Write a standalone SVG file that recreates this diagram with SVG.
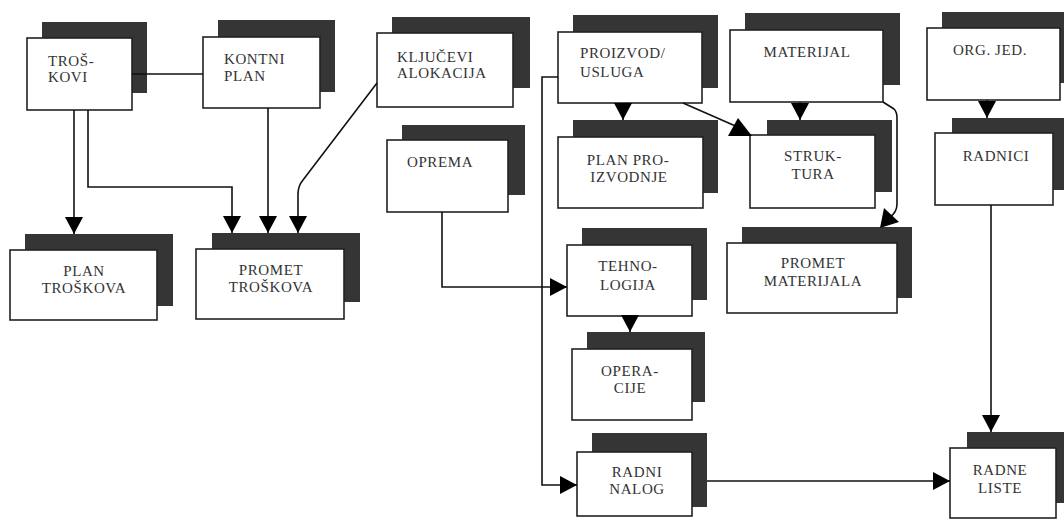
<svg xmlns="http://www.w3.org/2000/svg" width="1064" height="521" viewBox="0 0 1064 521">
<defs>
<marker id="ah" markerWidth="17" markerHeight="18" refX="17" refY="9" orient="auto" markerUnits="userSpaceOnUse" viewBox="0 0 17 18"><path d="M0,0 L17,9 L0,18 z" fill="#000"/></marker>
</defs>
<style>
.sh{fill:#353535;}
.bx{fill:#fff;stroke:#222;stroke-width:1.6;}
.t{font-family:"Liberation Serif","Times New Roman",serif;font-size:15px;letter-spacing:0.6px;fill:#333;}
.c{text-anchor:middle;}
.ln{fill:none;stroke:#111;stroke-width:1.6;}
.ah{fill:#000;}
</style>
<rect width="1064" height="521" fill="#fff"/>
<g id="n-troskovi"><rect class="sh" x="42" y="22" width="105" height="71"/><rect class="bx" x="27" y="38" width="105" height="72"/><text class="t" x="48" y="66">TROŠ-</text><text class="t" x="48" y="82">KOVI</text></g>
<g id="n-kontni"><rect class="sh" x="218" y="20" width="117" height="72"/><rect class="bx" x="203" y="37" width="117" height="71"/><text class="t" x="224" y="64">KONTNI</text><text class="t" x="224" y="81">PLAN</text></g>
<g id="n-kljucevi"><rect class="sh" x="392" y="17" width="138" height="71"/><rect class="bx" x="377" y="33" width="136" height="74"/><text class="t" x="397" y="62">KLJUČEVI</text><text class="t" x="397" y="78">ALOKACIJA</text></g>
<g id="n-proizvod"><rect class="sh" x="573" y="15" width="145" height="73"/><rect class="bx" x="558" y="32" width="144" height="71"/><text class="t" x="580" y="58">PROIZVOD/</text><text class="t" x="580" y="77">USLUGA</text></g>
<g id="n-materijal"><rect class="sh" x="745" y="13" width="155" height="72"/><rect class="bx" x="730" y="30" width="153" height="72"/><text class="t c" x="807" y="57">MATERIJAL</text></g>
<g id="n-orgjed"><rect class="sh" x="942" y="12" width="122" height="71"/><rect class="bx" x="927" y="28" width="133" height="72"/><text class="t c" x="990" y="55">ORG. JED.</text></g>
<g id="n-oprema"><rect class="sh" x="402" y="125" width="123" height="70"/><rect class="bx" x="387" y="140" width="121" height="72"/><text class="t" x="407" y="167">OPREMA</text></g>
<g id="n-planpro"><rect class="sh" x="573" y="120" width="145" height="73"/><rect class="bx" x="558" y="137" width="145" height="71"/><text class="t c" x="628" y="165">PLAN PRO-</text><text class="t c" x="629" y="182">IZVODNJE</text></g>
<g id="n-struktura"><rect class="sh" x="767" y="120" width="125" height="72"/><rect class="bx" x="750" y="135" width="125" height="73"/><text class="t c" x="813" y="161">STRUK-</text><text class="t c" x="813" y="179">TURA</text></g>
<g id="n-radnici"><rect class="sh" x="952" y="118" width="112" height="72"/><rect class="bx" x="935" y="133" width="118" height="72"/><text class="t c" x="996" y="161">RADNICI</text></g>
<g id="n-plantroskova"><rect class="sh" x="25" y="234" width="148" height="72"/><rect class="bx" x="10" y="250" width="147" height="70"/><text class="t c" x="84" y="276">PLAN</text><text class="t c" x="84" y="293">TROŠKOVA</text></g>
<g id="n-promettroskova"><rect class="sh" x="212" y="233" width="148" height="69"/><rect class="bx" x="196" y="249" width="148" height="70"/><text class="t c" x="271" y="275">PROMET</text><text class="t c" x="271" y="292">TROŠKOVA</text></g>
<g id="n-tehnologija"><rect class="sh" x="582" y="228" width="125" height="72"/><rect class="bx" x="567" y="245" width="125" height="71"/><text class="t c" x="628" y="271">TEHNO-</text><text class="t c" x="628" y="290">LOGIJA</text></g>
<g id="n-prometmaterijala"><rect class="sh" x="742" y="227" width="170" height="71"/><rect class="bx" x="727" y="243" width="170" height="70"/><text class="t c" x="813" y="268">PROMET</text><text class="t c" x="813" y="286">MATERIJALA</text></g>
<g id="n-operacije"><rect class="sh" x="587" y="332" width="118" height="70"/><rect class="bx" x="572" y="349" width="120" height="71"/><text class="t c" x="630" y="376">OPERA-</text><text class="t c" x="630" y="393">CIJE</text></g>
<g id="n-radninalog"><rect class="sh" x="592" y="433" width="115" height="74"/><rect class="bx" x="577" y="452" width="115" height="64"/><text class="t c" x="637" y="477">RADNI</text><text class="t c" x="637" y="494">NALOG</text></g>
<g id="n-radneliste"><rect class="sh" x="967" y="432" width="97" height="71"/><rect class="bx" x="950" y="448" width="106" height="70"/><text class="t c" x="1000" y="475">RADNE</text><text class="t c" x="1000" y="493">LISTE</text></g>
<g id="connectors">
<path class="ln" d="M132,74 L203,74"/>
<path class="ln" d="M74,110 L74,234" marker-end="url(#ah)"/>
<path class="ln" d="M88,110 L88,187 L232,187 L232,233" marker-end="url(#ah)"/>
<path class="ln" d="M268,108 L268,233" marker-end="url(#ah)"/>
<path class="ln" d="M377,83 L303,180 Q298,186 298,194 L298,233" marker-end="url(#ah)"/>
<path class="ln" d="M623,103 L623,120" marker-end="url(#ah)"/>
<path class="ln" d="M683,103 L740,128"/>
<polygon class="ah" points="738,118 728,136 752,136"/>
<path class="ln" d="M800,102 L800,120" marker-end="url(#ah)"/>
<path class="ln" d="M883,102 L894,109 Q897,112 897,118 L897,204 Q897,212 890,217"/>
<polygon class="ah" points="880,228 884,208 899,222"/>
<path class="ln" d="M987,100 L987,118" marker-end="url(#ah)"/>
<path class="ln" d="M991,205 L991,432" marker-end="url(#ah)"/>
<path class="ln" d="M442,212 L442,287 L567,287" marker-end="url(#ah)"/>
<path class="ln" d="M630,316 L630,332" marker-end="url(#ah)"/>
<path class="ln" d="M558,77 L542,77 L542,485 L577,485" marker-end="url(#ah)"/>
<path class="ln" d="M707,481 L950,481" marker-end="url(#ah)"/>
</g>
</svg>
